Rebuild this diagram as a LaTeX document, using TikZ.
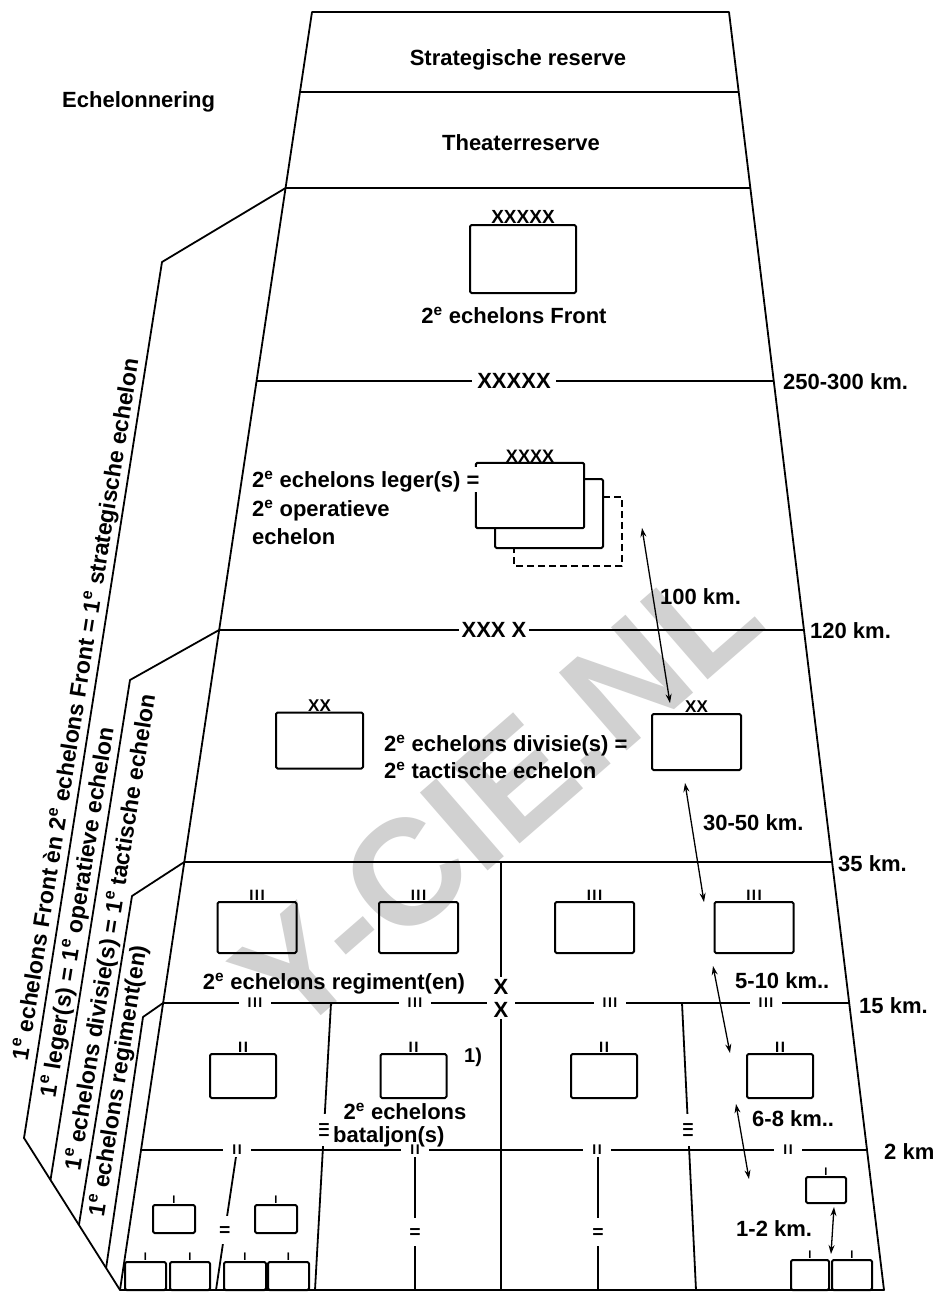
\documentclass[tikz,border=0pt]{standalone}
\usepackage{fontspec}
\setmainfont{Liberation Sans}
\usetikzlibrary{arrows.meta}
\begin{document}
\begin{tikzpicture}[x=1pt,y=-1pt,line join=round,
  outline/.style={line width=1.8pt},
  boxline/.style={line width=2pt,rounded corners=1.5pt},
  unitbox/.style={draw,line width=2pt,rounded corners=1.5pt,inner sep=0pt},
  ctrlbl/.style={font=\fontsize{22}{26}\selectfont\bfseries,inner sep=0pt},
  kmlbl/.style={font=\fontsize{22}{26}\selectfont\bfseries,anchor=base west,inner sep=0pt},
  sidelbl/.style={font=\fontsize{23}{27}\selectfont\bfseries,inner sep=3pt,rotate=81,anchor=south},
  umark/.style={font=\fontsize{18}{18}\selectfont\bfseries,inner sep=0pt,anchor=south},
  tickmark/.style={font=\fontsize{15}{15}\selectfont\bfseries,inner sep=0pt,anchor=south},
  linesym/.style={font=\fontsize{14}{14}\selectfont\bfseries,fill=white,inner xsep=9pt,inner ysep=2pt},
  vsym/.style={font=\fontsize{14}{14}\selectfont\bfseries,fill=white,rotate=90,inner xsep=9pt,inner ysep=2pt},
  bigsym/.style={font=\fontsize{22}{26}\selectfont\bfseries,fill=white,inner ysep=2pt},
  distarrow/.style={line width=1.3pt,{Stealth[length=9pt,width=6pt]}-{Stealth[length=9pt,width=6pt]}},
]
\fill[white] (0,0) rectangle (938,1293);
\useasboundingbox (0,0) rectangle (938,1293);

% watermark
\node[font=\fontsize{150}{150}\selectfont\bfseries,text=black!18,rotate=41] (wm) at (497,795) {Y-CIE.NL};

% main trapezoid
\coordinate (TL) at (312,12);
\coordinate (TR) at (729,12);
\coordinate (BR) at (884,1290);
\coordinate (BL) at (120,1290);
\draw[outline] (TL) -- (TR) -- (BR) -- (BL) -- cycle;
\draw[outline] (300,92) -- (738.7,92);
\draw[outline] (285.6,188) -- (750.3,188);
\draw[outline] (256.6,381) -- (773.8,381);
\draw[outline] (219.1,630) -- (804,630);
\draw[outline] (184.3,862) -- (832.1,862);
\draw[outline] (163.1,1003) -- (849.2,1003);
\draw[outline] (141,1150) -- (867,1150);

% vertical dividers
\draw[outline] (501,862) -- (501,1290);
\draw[outline] (331,1003) -- (315,1290);
\draw[outline] (682,1003) -- (696,1290);
\draw[outline] (237,1150) -- (216,1290);
\draw[outline] (415,1150) -- (415,1290);
\draw[outline] (598,1150) -- (598,1290);

% left brackets
\draw[outline] (285.6,188) -- (162,262) -- (24,1138) -- (BL);
\draw[outline] (219.1,630) -- (130,680) -- (50.5,1180);
\draw[outline] (184.3,862) -- (132,896) -- (78.9,1225);
\draw[outline] (163.1,1003) -- (143,1017) -- (106.1,1268);

% side labels
\node[sidelbl] (s1) at (91.1,712) {1\textsuperscript{e} echelons Front èn 2\textsuperscript{e} echelons Front = 1\textsuperscript{e} strategische echelon};
\node[sidelbl] (s2) at (92.6,915) {1\textsuperscript{e} leger(s) = 1\textsuperscript{e} operatieve echelon};
\node[sidelbl] (s3) at (125.6,935) {1\textsuperscript{e} echelons divisie(s) = 1\textsuperscript{e} tactische echelon};
\node[sidelbl] (s4) at (133.2,1083) {1\textsuperscript{e} echelons regiment(en)};

% symbols on lines
\node[bigsym,inner xsep=5pt] (sym5) at (514,381) {XXXXX};
\node[bigsym,inner xsep=3pt] (sym4) at (494,630) {XXX X};
\node[bigsym,align=center,font=\fontsize{22}{23}\selectfont\bfseries,inner xsep=7pt] (symxx) at (501,998) {X\\X};
\node[linesym] (r1) at (255,1003) {I\kern1.5pt I\kern1.5pt I};
\node[linesym] (r2) at (415,1003) {I\kern1.5pt I\kern1.5pt I};
\node[linesym] (r3) at (610,1003) {I\kern1.5pt I\kern1.5pt I};
\node[linesym] (r4) at (766,1003) {I\kern1.5pt I\kern1.5pt I};
\node[linesym] (b1) at (237,1150) {I\kern1.5pt I};
\node[linesym] (b2) at (415,1150) {I\kern1.5pt I};
\node[linesym] (b3) at (597,1150) {I\kern1.5pt I};
\node[linesym] (b4) at (788,1150) {I\kern1.5pt I};
\node[vsym] (v1) at (324,1130) {I\kern1.5pt I\kern1.5pt I};
\node[vsym] (v2) at (688,1130) {I\kern1.5pt I\kern1.5pt I};
\node[vsym] (w1) at (224.7,1230) {I\kern1.5pt I};
\node[vsym] (w2) at (415,1232) {I\kern1.5pt I};
\node[vsym] (w3) at (598,1232) {I\kern1.5pt I};

% km labels
\node[kmlbl] (k1) at (783,389) {250-300 km.};
\node[kmlbl] (k2) at (810,638) {120 km.};
\node[kmlbl] (k3) at (838,871) {35 km.};
\node[kmlbl] (k4) at (859,1013) {15 km.};
\node[kmlbl] (k5) at (884,1159) {2 km};

% titles
\node[ctrlbl,anchor=base] (sr) at (518,65) {Strategische reserve};
\node[ctrlbl,anchor=base west] (ech) at (62,107) {Echelonnering};
\node[ctrlbl,anchor=base] (th) at (521,150) {Theaterreserve};

% front
\node[unitbox,minimum width=106pt,minimum height=68pt] (fr) at (523,259) {};
\node[umark,font=\fontsize{19}{19}\selectfont\bfseries] at (fr.north) {XXXXX};
\node[ctrlbl,anchor=base] (frl) at (514,323) {2\textsuperscript{e} echelons Front};

% army
\node[minimum width=108pt,minimum height=65pt,inner sep=0pt] (ar) at (530,495.5) {};
\draw[dash pattern=on 7pt off 4pt,line width=2pt] (603,497) -- (622,497) -- (622,566) -- (514,566) -- (514,548);
\draw[boxline] (584,479) -- (603,479) -- (603,548) -- (495,548) -- (495,528);
\draw[boxline] ([yshift=-4pt]ar.north west) -- (ar.north west) -- (ar.north east) -- (ar.south east) -- (ar.south west) -- ([yshift=36pt]ar.south west);
\node[umark] at (ar.north) {XXXX};
\node[ctrlbl,anchor=base west] (arl1) at (252,487) {2\textsuperscript{e} echelons leger(s) =};
\node[ctrlbl,anchor=base west] (arl2) at (252,516) {2\textsuperscript{e} operatieve};
\node[ctrlbl,anchor=base west] (arl3) at (252,544) {echelon};

% division
\node[unitbox,minimum width=87pt,minimum height=56pt] (dv1) at (319.5,740.5) {};
\node[unitbox,minimum width=89pt,minimum height=56pt] (dv2) at (696.5,742) {};
\node[umark,font=\fontsize{17}{17}\selectfont\bfseries] at (dv1.north) {XX};
\node[umark,font=\fontsize{17}{17}\selectfont\bfseries] at (dv2.north) {XX};
\node[ctrlbl,anchor=base west] (dvl1) at (384,751) {2\textsuperscript{e} echelons divisie(s) =};
\node[ctrlbl,anchor=base west] (dvl2) at (384,778) {2\textsuperscript{e} tactische echelon};

% regiments
\foreach \n/\x in {1/257,2/418.5,3/594.5,4/754} {
  \node[unitbox,minimum width=79pt,minimum height=51pt] (rg\n) at (\x,927.5) {};
  \node[tickmark] at (rg\n.north) {I\kern1.5pt I\kern1.5pt I};
}
\node[ctrlbl,anchor=base] (rgl) at (334,989) {2\textsuperscript{e} echelons regiment(en)};

% battalions
\foreach \n/\x in {1/243,2/413.5,3/604,4/780} {
  \node[unitbox,minimum width=66pt,minimum height=44pt] (bt\n) at (\x,1076) {};
  \node[tickmark] at (bt\n.north) {I\kern1.5pt I};
}
\node[font=\fontsize{20}{24}\selectfont\bfseries,anchor=base west,inner sep=0pt] (note) at (464,1062) {1)};
\node[ctrlbl,anchor=base] (btl1) at (405,1119) {2\textsuperscript{e} echelons};
\node[ctrlbl,anchor=base west] (btl2) at (333,1142) {bataljon(s)};

% companies
\foreach \n/\x/\y/\w/\h in {1/174/1219/42/28, 2/276/1219/42/28, 3/145.5/1276/41/28, 4/190/1276/40/28, 5/245/1276/42/28, 6/288.5/1276/41/28, 7/826/1190/40/26, 8/810/1275/38/30, 9/852/1275/40/30} {
  \node[unitbox,minimum width=\w pt,minimum height=\h pt] (cp\n) at (\x,\y) {};
  \node[tickmark,font=\fontsize{11}{11}\selectfont\bfseries] at (cp\n.north) {I};
}

% distance arrows
\coordinate (a1s) at (642,528);
\coordinate (a1e) at (670,703);
\coordinate (a2s) at (685,783);
\coordinate (a2e) at (704,902);
\coordinate (a3s) at (713,966);
\coordinate (a3e) at (730,1053);
\coordinate (a4s) at (736,1104);
\coordinate (a4e) at (749,1179);
\coordinate (a5s) at (834,1207);
\coordinate (a5e) at (831,1254);
\draw[distarrow] (a1s) -- (a1e);
\draw[distarrow] (a2s) -- (a2e);
\draw[distarrow] (a3s) -- (a3e);
\draw[distarrow] (a4s) -- (a4e);
\draw[distarrow] (a5s) -- (a5e);
\node[kmlbl] (d1) at (660,604) {100 km.};
\node[kmlbl] (d2) at (703,830) {30-50 km.};
\node[kmlbl] (d3) at (735,988) {5-10 km..};
\node[kmlbl] (d4) at (752,1126) {6-8 km..};
\node[kmlbl] (d5) at (736,1236) {1-2 km.};
\end{tikzpicture}
\end{document}
